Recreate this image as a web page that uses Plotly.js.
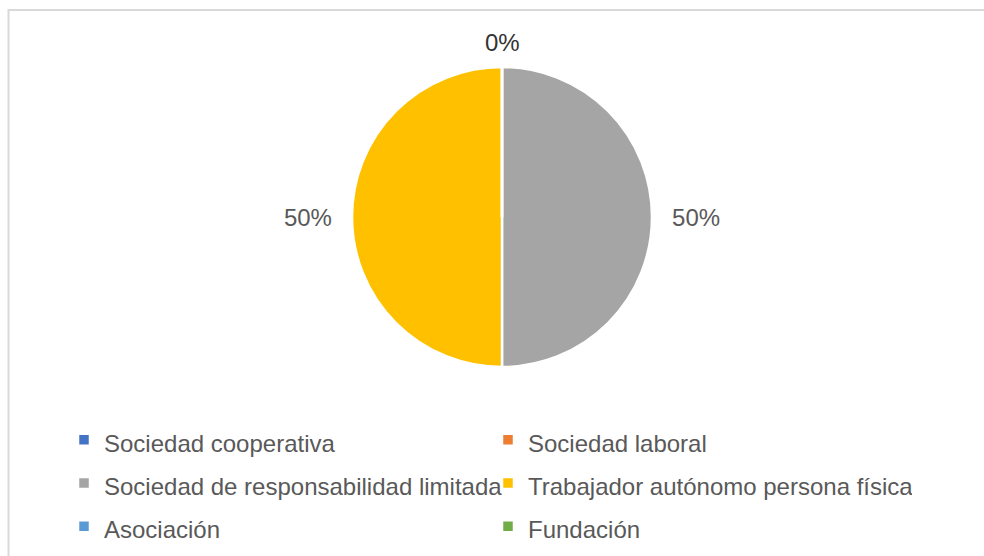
<!DOCTYPE html>
<html>
<head>
<meta charset="utf-8">
<script src="https://cdn.plot.ly/plotly-3.0.1.min.js"></script>
<style>html,body{margin:0;padding:0;background:#fff;}#chart{width:984px;height:556px;}</style>
</head>
<body>
<div id="chart"></div>
<script>
const categories = ["Sociedad cooperativa", "Sociedad laboral", "Sociedad de responsabilidad limitada", "Trabajador autónomo persona física", "Asociación", "Fundación"];
const values = [0, 0, 50, 50, 0, 0];
const colors = ["#4472C4", "#ED7D31", "#A5A5A5", "#FFC000", "#5B9BD5", "#70AD47"];

const W = 984, H = 556;
const FONT = "Liberation Sans, Arial, sans-serif";
const total = values.reduce((a, b) => a + b, 0);
const hasZero = values.some(v => v === 0);

// label templates: hide zero slices, pad away from the pie depending on side (clockwise from 12 o'clock)
const PAD = "\u00a0\u00a0";
let cum = 0;
const templates = values.map(v => {
  const mid = (cum + v / 2) / total;
  cum += v;
  if (v === 0) return "";
  return mid < 0.5 ? PAD + "%{percent:.0%}" : "%{percent:.0%}" + PAD;
});

const trace = {
  type: "pie",
  labels: categories.map(c => '<span style="font-size:24px">' + c + '</span>'),
  values: values,
  sort: false,
  direction: "clockwise",
  rotation: 0,
  marker: {colors: colors, line: {color: "#ffffff", width: 2.5}},
  texttemplate: templates,
  textposition: "outside",
  outsidetextfont: {family: FONT, size: 24, color: "#595959"},
  domain: {x: [352/W, 652/W], y: [1 - 367/H, 1 - 67/H]},
  hoverinfo: "label+percent"
};

const annotations = [];
if (hasZero) {
  annotations.push({
    xref: "paper", yref: "paper",
    x: 502/W, y: 1 - 43/H, xanchor: "center", yanchor: "middle",
    text: (0 / total * 100).toFixed(0) + "%",
    showarrow: false,
    font: {family: FONT, size: 24, color: "#333333"}
  });
}

const layout = {
  width: W, height: H,
  margin: {l: 0, r: 0, t: 0, b: 0},
  paper_bgcolor: "#ffffff",
  font: {family: FONT, color: "#595959"},
  showlegend: true,
  legend: {
    orientation: "h",
    x: 64/W, xanchor: "left",
    y: 1 - 413/H, yanchor: "top",
    entrywidth: 379, entrywidthmode: "pixels",
    font: {size: 31, color: "#595959", family: FONT},
    traceorder: "normal"
  },
  annotations: annotations,
  shapes: [{
    type: "rect", xref: "paper", yref: "paper",
    x0: 8.5/W, x1: 1.05, y0: -0.05, y1: 1 - 10/H,
    line: {color: "#d9d9d9", width: 2}, fillcolor: "rgba(0,0,0,0)"
  }]
};

Plotly.newPlot("chart", [trace], layout, {displayModeBar: false, staticPlot: true});
</script>
</body>
</html>
